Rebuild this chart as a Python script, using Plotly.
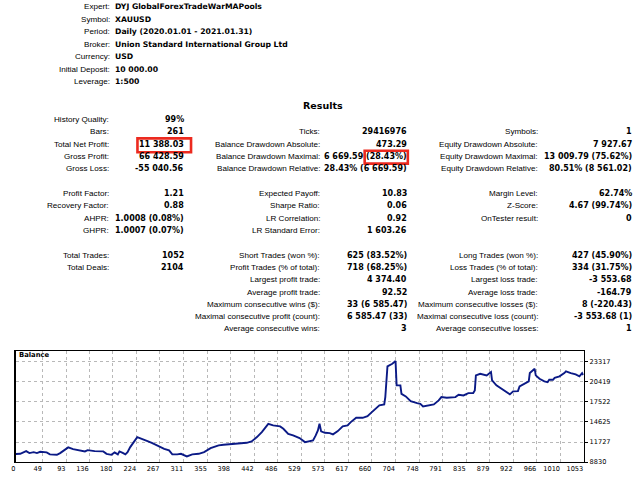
import plotly.graph_objects as go

# ---------------- data ----------------
info_labels = ["Expert:", "Symbol:", "Period:", "Broker:", "Currency:", "Initial Deposit:", "Leverage:"]
info_values = ["DYJ GlobalForexTradeWarMAPools", "XAUUSD", "Daily (2020.01.01 - 2021.01.31)",
               "Union Standard International Group Ltd", "USD", "10 000.00", "1:500"]

col1_labels = ["History Quality:", "Bars:", "Total Net Profit:", "Gross Profit:", "Gross Loss:", "",
               "Profit Factor:", "Recovery Factor:", "AHPR:", "GHPR:", "",
               "Total Trades:", "Total Deals:", "", "", "", "", ""]
col1_values = ["99%", "261", "11 388.03", "66 428.59", "-55 040.56", "",
               "1.21", "0.88", "1.0008 (0.08%)", "1.0007 (0.07%)", "",
               "1052", "2104", "", "", "", "", ""]

col2_labels = ["", "Ticks:", "Balance Drawdown Absolute:", "Balance Drawdown Maximal:", "Balance Drawdown Relative:", "",
               "Expected Payoff:", "Sharpe Ratio:", "LR Correlation:", "LR Standard Error:", "",
               "Short Trades (won %):", "Profit Trades (% of total):", "Largest profit trade:",
               "Average profit trade:", "Maximum consecutive wins ($):",
               "Maximal consecutive profit (count):", "Average consecutive wins:"]
col2_values = ["", "29416976", "473.29", "6 669.59 (28.43%)", "28.43% (6 669.59)", "",
               "10.83", "0.06", "0.92", "1 603.26", "",
               "625 (83.52%)", "718 (68.25%)", "4 374.40", "92.52", "33 (6 585.47)",
               "6 585.47 (33)", "3"]

col3_labels = ["", "Symbols:", "Equity Drawdown Absolute:", "Equity Drawdown Maximal:", "Equity Drawdown Relative:", "",
               "Margin Level:", "Z-Score:", "OnTester result:", "", "",
               "Long Trades (won %):", "Loss Trades (% of total):", "Largest loss trade:",
               "Average loss trade:", "Maximum consecutive losses ($):",
               "Maximal consecutive loss (count):", "Average consecutive losses:"]
col3_values = ["", "1", "7 927.67", "13 009.79 (75.62%)", "80.51% (8 561.02)", "",
               "62.74%", "4.67 (99.74%)", "0", "", "",
               "427 (45.90%)", "334 (31.75%)", "-3 553.68", "-164.79", "8 (-220.43)",
               "-3 553.68 (1)", "1"]

trade_no = [0, 8, 19, 25, 33, 39, 45, 57, 63, 76, 82, 97, 106, 122, 128, 133, 146, 162, 168, 177,
            183, 189, 192, 198, 203, 207, 212, 225, 232, 244, 253, 263, 275, 284, 290, 299, 306, 317,
            327, 339, 349, 361, 376, 385, 398, 410, 416, 428, 437, 447, 456, 468, 477, 490, 496, 505,
            514, 526, 536, 545, 551, 556, 560, 563, 566, 573, 582, 588, 597, 606, 615, 621, 631, 643,
            652, 658, 667, 674, 683, 685, 689, 698, 704, 706, 713, 715, 723, 732, 744, 750, 755, 763,
            775, 784, 789, 799, 815, 821, 830, 839, 848, 851, 853, 861, 873, 881, 883, 891, 904, 916,
            922, 931, 934, 943, 951, 953, 962, 964, 971, 980, 986, 989, 996, 999, 1008, 1017, 1020,
            1029, 1038, 1045, 1050, 1052]
balance = [10000, 10030, 10415, 10127, 10271, 10127, 10314, 10228, 9940, 9882, 10127, 10948, 10703,
           10415, 10372, 10559, 10415, 10372, 10026, 9882, 10228, 9940, 10372, 10170, 9940, 10271,
           10992, 12433, 12245, 11856, 11568, 11179, 10747, 10516, 9940, 9940, 10026, 9651, 9940,
           10026, 10271, 10847, 11236, 11323, 11381, 11467, 11568, 11611, 11813, 12433, 13153, 14349,
           14118, 13974, 13629, 12908, 12677, 12288, 11712, 11813, 11957, 12677, 13398, 14349, 13254,
           13052, 13009, 12822, 13297, 13974, 14118, 14594, 15214, 15214, 15459, 15891, 16511, 17000,
           17145, 18197, 22620, 22995, 23384, 19882, 19882, 18672, 18297, 17620, 17332, 17231, 16856,
           17000, 17145, 17721, 18197, 18096, 18197, 18528, 18441, 18773, 18773, 19162, 21323, 21554,
           21323, 21799, 20603, 19882, 19248, 18586, 19018, 19061, 19738, 20113, 20459, 21655, 22275,
           21323, 20834, 20459, 20358, 20689, 20689, 20978, 21179, 21655, 21900, 21655, 21468, 21179,
           21655, 21388]

x_ticks = [0, 49, 93, 136, 180, 224, 267, 311, 355, 398, 442, 486, 529, 573, 617, 660, 704, 748,
           791, 835, 879, 922, 966, 1010, 1053]
y_ticks = [8830, 11727, 14625, 17522, 20419, 23317]

# ---------------- figure ----------------
W, H = 640, 480
LABEL_FONT = dict(family="Liberation Sans", size=8.1, color="#000000")
VALUE_FONT = dict(family="DejaVu Sans", size=8.0, color="#000000")
INFO_FONT = dict(family="DejaVu Sans", size=7.7, color="#000000")


def px(x):
    return x / W


def py(y):
    return 1 - y / H


fig = go.Figure()
fig.add_trace(go.Scatter(x=trade_no, y=balance, mode="lines",
                         line=dict(color="#0b1a86", width=1.9), hoverinfo="skip",
                         showlegend=False))

ann = []


def text(x, y, s, anchor, font):
    if not s:
        return
    ann.append(dict(x=px(x), y=py(y), xref="paper", yref="paper", text=s, showarrow=False,
                    xanchor=anchor, yanchor="middle", font=font, borderpad=0))


for i, (lab, val) in enumerate(zip(info_labels, info_values)):
    y = 6.8 + 12.6 * i
    text(106.5, y, lab, "right", LABEL_FONT)
    text(110, y, "<b>" + val + "</b>", "left", INFO_FONT)

text(320, 106, "<b>Results</b>", "center", dict(family="DejaVu Sans", size=9.5, color="#000"))

cols = [(col1_labels, col1_values, 105.5, 181),
        (col2_labels, col2_values, 318, 406.5),
        (col3_labels, col3_values, 538.5, 632.5)]
for labels, values, lx, vx in cols:
    for i, (lab, val) in enumerate(zip(labels, values)):
        y = 120.6 + 12.42 * i
        text(lx, y, lab, "right", LABEL_FONT)
        if val:
            text(vx, y, "<b>" + val + "</b>", "right", VALUE_FONT)

text(13, 357.8, "<b>Balance</b>", "left", dict(family="DejaVu Sans", size=6.8, color="#000"))

shapes = [
    dict(type="rect", xref="paper", yref="paper", x0=px(133.5), x1=px(187.5), y0=py(153.5), y1=py(139.5),
         line=dict(color="#ec2a1f", width=2.6)),
    dict(type="rect", xref="paper", yref="paper", x0=px(362.5), x1=px(406), y0=py(165), y1=py(152),
         line=dict(color="#ec2a1f", width=2.6)),
]

fig.update_layout(
    width=W, height=H, margin=dict(l=0, r=0, t=0, b=0),
    paper_bgcolor="white", plot_bgcolor="white",
    annotations=ann, shapes=shapes, showlegend=False,
    xaxis=dict(domain=[px(11), px(583.3)], range=[0, 1053], tickmode="array",
               tickvals=x_ticks, ticktext=[str(v) for v in x_ticks],
               ticklabelposition="outside left", tickangle=0, ticks="", showgrid=True,
               gridcolor="#b8b8b8", griddash="dot", gridwidth=1, zeroline=False,
               showline=True, linecolor="#000", linewidth=1, mirror=True,
               tickfont=dict(family="DejaVu Sans", size=6.6, color="#000")),
    yaxis=dict(domain=[py(466), py(354)], range=[8830, 24830], side="right", tickmode="array",
               tickvals=y_ticks, ticktext=[str(v) for v in y_ticks],
               ticks="outside", ticklen=3, tickcolor="#000", showgrid=True,
               gridcolor="#b8b8b8", griddash="dot", gridwidth=1, zeroline=False,
               showline=True, linecolor="#000", linewidth=1.5, mirror=True,
               tickfont=dict(family="DejaVu Sans", size=6.6, color="#000")),
)

fig.write_html("out.html", config={"displayModeBar": False, "staticPlot": True},
               post_script="document.body.style.margin='0';document.body.style.overflow='hidden';")
